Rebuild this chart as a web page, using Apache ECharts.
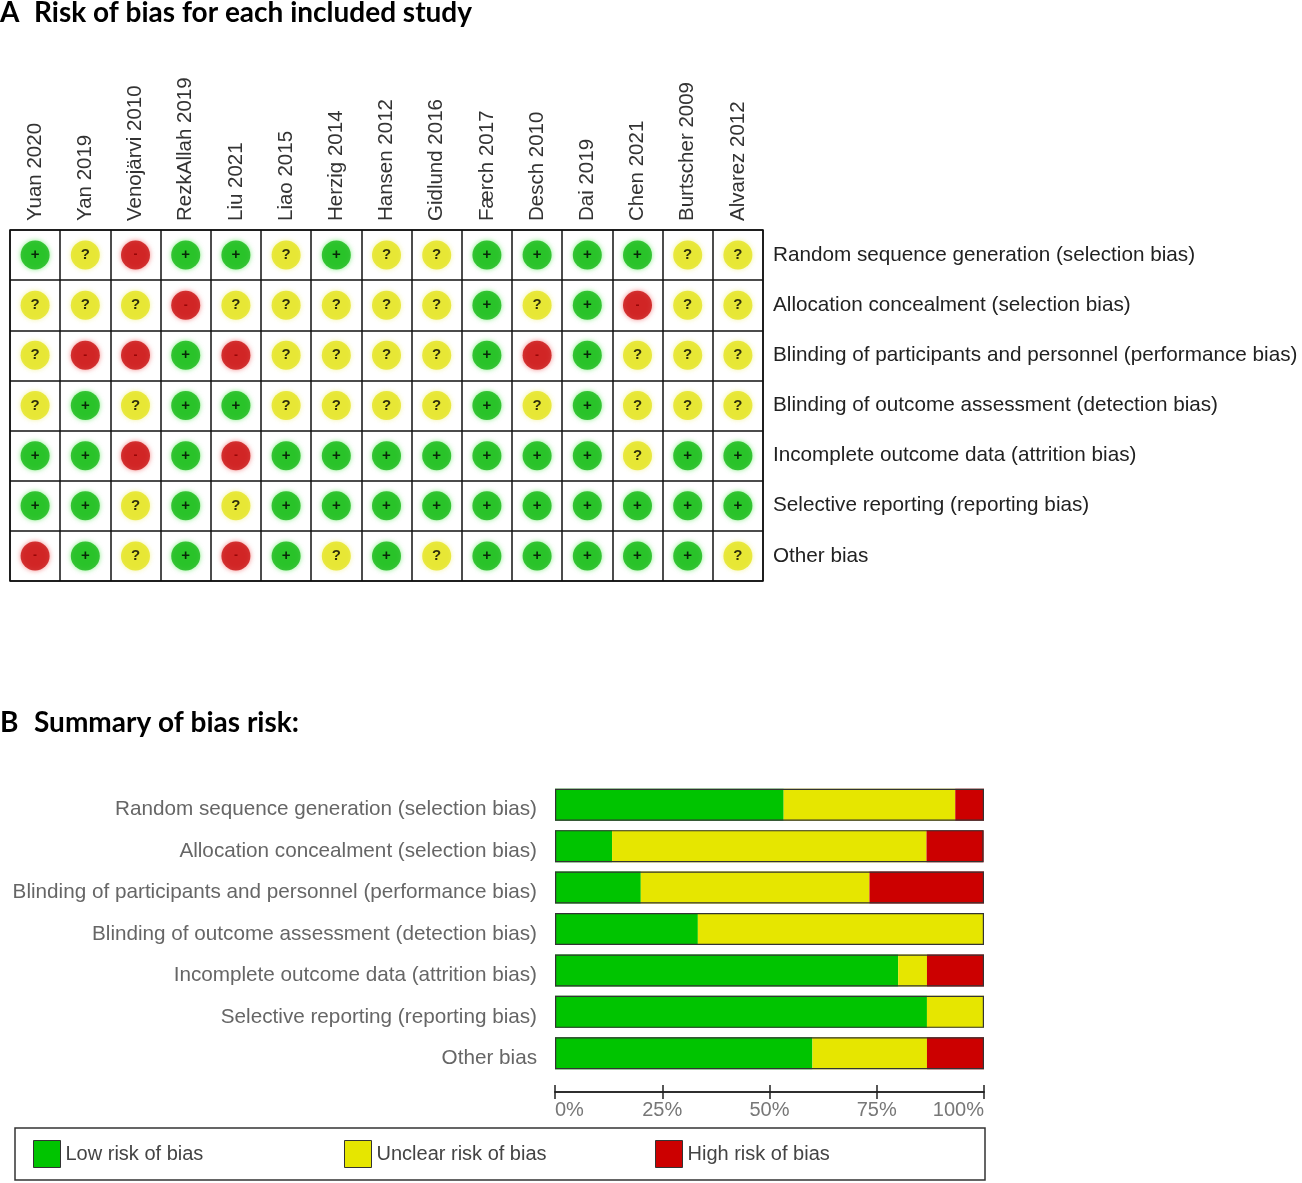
<!DOCTYPE html>
<html>
<head>
<meta charset="UTF-8">
<title>Risk of bias</title>
<style>
  html, body { margin: 0; padding: 0; background: #fff; }
  #main { width: 1302px; height: 1183px; }
</style>
</head>
<body>
<div id="main"></div>
<script src="https://cdn.jsdelivr.net/npm/echarts@6/dist/echarts.min.js"></script>
<script>
var studies = ['Yuan 2020', 'Yan 2019', 'Venojärvi 2010', 'RezkAllah 2019', 'Liu 2021', 'Liao 2015',
  'Herzig 2014', 'Hansen 2012', 'Gidlund 2016', 'Færch 2017', 'Desch 2010', 'Dai 2019',
  'Chen 2021', 'Burtscher 2009', 'Alvarez 2012'];
var domains = [
  'Random sequence generation (selection bias)',
  'Allocation concealment (selection bias)',
  'Blinding of participants and personnel (performance bias)',
  'Blinding of outcome assessment (detection bias)',
  'Incomplete outcome data (attrition bias)',
  'Selective reporting (reporting bias)',
  'Other bias'
];

// judgement of each study, per domain: L = low, U = unclear, H = high
var randomSeq  = ['L','U','H','L','L','U','L','U','U','L','L','L','L','U','U'];
var allocation = ['U','U','U','H','U','U','U','U','U','L','U','L','H','U','U'];
var blindPart  = ['U','H','H','L','H','U','U','U','U','L','H','L','U','U','U'];
var blindOut   = ['U','L','U','L','L','U','U','U','U','L','U','L','U','U','U'];
var incomplete = ['L','L','H','L','H','L','L','L','L','L','L','L','U','L','L'];
var selective  = ['L','L','U','L','U','L','L','L','L','L','L','L','L','L','L'];
var otherBias  = ['H','L','U','L','H','L','U','L','U','L','L','L','L','L','U'];

// summary bars, % of studies per domain
var lowPct     = [53.3, 13.3, 20.0, 33.3, 80.0, 86.7, 60.0];
var unclearPct = [40.0, 73.3, 53.3, 66.7, 6.7, 13.3, 26.7];
var highPct    = [6.7, 13.3, 26.7, 0, 13.3, 0, 13.3];

var pctTicks = [0, 25, 50, 75, 100];

var GREEN = '#12b812', YELLOW = '#e4e41a', RED = '#c80c0c';
var BAR_GREEN = '#00c400', BAR_YELLOW = '#e6e600', BAR_RED = '#cc0000';
var FONT = '"Liberation Sans", Arial, sans-serif';

var rows = [randomSeq, allocation, blindPart, blindOut, incomplete, selective, otherBias];
var cells = { L: [], U: [], H: [] };
rows.forEach(function (row, d) {
  row.forEach(function (j, s) {
    cells[j].push([s, d]);
  });
});
var totals = lowPct.map(function (v, i) { return Math.min(100, v + unclearPct[i] + highPct[i]); });

function dotSeries(name, data, color, glow, mark, markColor, markSize) {
  return {
    name: name,
    type: 'scatter',
    xAxisIndex: 0,
    yAxisIndex: 0,
    data: data,
    symbol: 'circle',
    symbolSize: 29,
    itemStyle: { color: color, shadowBlur: 5, shadowColor: glow },
    label: {
      show: true,
      position: 'inside',
      formatter: mark,
      color: markColor,
      fontSize: markSize,
      fontWeight: 'bold',
      fontFamily: FONT
    },
    silent: true
  };
}

function legendBox(name, left) {
  return {
    data: [name],
    left: left,
    top: 1140,
    padding: 0,
    itemWidth: 27,
    itemHeight: 27,
    icon: 'rect',
    selectedMode: false,
    itemStyle: { borderColor: '#333', borderWidth: 1 },
    textStyle: { fontSize: 20, color: '#444', fontFamily: FONT }
  };
}

var chart = echarts.init(document.getElementById('main'));
var titleFont = { fontFamily: 'Lato, "Open Sans", sans-serif', fontWeight: 'bold', fontSize: 28, color: '#000' };

chart.setOption({
  animation: false,
  backgroundColor: '#fff',
  textStyle: { fontFamily: FONT },
  title: [
    { text: 'A', left: 0, top: -1, padding: 0, textStyle: titleFont },
    { text: 'Risk of bias for each included study', left: 34, top: -1, padding: 0, textStyle: titleFont },
    { text: 'B', left: 0, top: 709, padding: 0, textStyle: titleFont },
    { text: 'Summary of bias risk:', left: 34, top: 709, padding: 0, textStyle: titleFont }
  ],
  legend: [
    legendBox('Low risk of bias', 33),
    legendBox('Unclear risk of bias', 344),
    legendBox('High risk of bias', 655)
  ],
  graphic: [{
    type: 'rect',
    shape: { x: 15, y: 1128, width: 970, height: 52 },
    style: { fill: 'none', stroke: '#333', lineWidth: 1.5 },
    silent: true
  }],
  grid: [
    { left: 10, top: 230, width: 753, height: 351, show: true, borderColor: '#111', borderWidth: 1.5 },
    { left: 555, top: 784, width: 429, height: 290 }
  ],
  xAxis: [
    {
      gridIndex: 0,
      type: 'category',
      data: studies,
      position: 'top',
      axisLine: { show: false },
      axisTick: { show: false },
      axisLabel: { rotate: -90, margin: 9, color: '#333', fontSize: 20.5, fontFamily: FONT, interval: 0 },
      splitLine: { show: true, interval: 0, lineStyle: { color: '#111', width: 1.5 } }
    },
    {
      gridIndex: 1,
      type: 'value',
      min: pctTicks[0],
      max: pctTicks[pctTicks.length - 1],
      interval: 25,
      position: 'bottom',
      offset: 18,
      axisLine: { show: true, lineStyle: { color: '#222', width: 1.5 } },
      axisTick: { show: true, length: 7, lineStyle: { color: '#222', width: 1.5 } },
      axisLabel: {
        formatter: '{value}%', color: '#777', fontSize: 20, fontFamily: FONT, margin: 8,
        alignMinLabel: 'left', alignMaxLabel: 'right'
      },
      splitLine: { show: false }
    },
    {
      gridIndex: 1,
      type: 'value',
      min: pctTicks[0],
      max: pctTicks[pctTicks.length - 1],
      interval: 25,
      position: 'bottom',
      offset: 18,
      axisLine: { show: true, lineStyle: { color: '#222', width: 1.5 } },
      axisTick: { show: true, inside: true, length: 7, lineStyle: { color: '#222', width: 1.5 } },
      axisLabel: { show: false },
      splitLine: { show: false }
    }
  ],
  yAxis: [
    {
      gridIndex: 0,
      type: 'category',
      data: domains,
      inverse: true,
      position: 'right',
      axisLine: { show: false },
      axisTick: { show: false },
      axisLabel: { margin: 10, color: '#222', fontSize: 20.7, fontFamily: FONT, interval: 0 },
      splitLine: { show: true, interval: 0, lineStyle: { color: '#111', width: 1.5 } }
    },
    {
      gridIndex: 1,
      type: 'category',
      data: domains,
      inverse: true,
      axisLine: { show: false },
      axisTick: { show: false },
      axisLabel: {
        margin: 18, interval: 0,
        formatter: function (v) { return '{d|' + v + '}'; },
        rich: { d: { color: '#666', fontSize: 20.7, fontFamily: FONT, padding: [10, 0, 0, 0] } }
      },
      splitLine: { show: false }
    }
  ],
  series: [
    dotSeries('low', cells.L, GREEN, 'rgba(90,230,90,0.9)', '+', '#000', 15),
    dotSeries('unclear', cells.U, YELLOW, 'rgba(240,240,120,0.9)', '?', '#000', 15),
    dotSeries('high', cells.H, RED, 'rgba(240,90,90,0.9)', '-', '#8a0000', 12),
    {
      name: 'Low risk of bias', type: 'bar', stack: 'risk', xAxisIndex: 1, yAxisIndex: 1,
      data: lowPct, barWidth: 32, barGap: '-100%', itemStyle: { color: BAR_GREEN }, silent: true
    },
    {
      name: 'Unclear risk of bias', type: 'bar', stack: 'risk', xAxisIndex: 1, yAxisIndex: 1,
      data: unclearPct, barWidth: 32, barGap: '-100%', itemStyle: { color: BAR_YELLOW }, silent: true
    },
    {
      name: 'High risk of bias', type: 'bar', stack: 'risk', xAxisIndex: 1, yAxisIndex: 1,
      data: highPct, barWidth: 32, barGap: '-100%', itemStyle: { color: BAR_RED }, silent: true
    },
    {
      name: 'outline', type: 'bar', xAxisIndex: 1, yAxisIndex: 1,
      data: totals, barWidth: 32, barGap: '-100%', z: 3,
      itemStyle: { color: 'rgba(0,0,0,0)', borderColor: '#333', borderWidth: 1.2 }, silent: true
    }
  ]
});
</script>
</body>
</html>
